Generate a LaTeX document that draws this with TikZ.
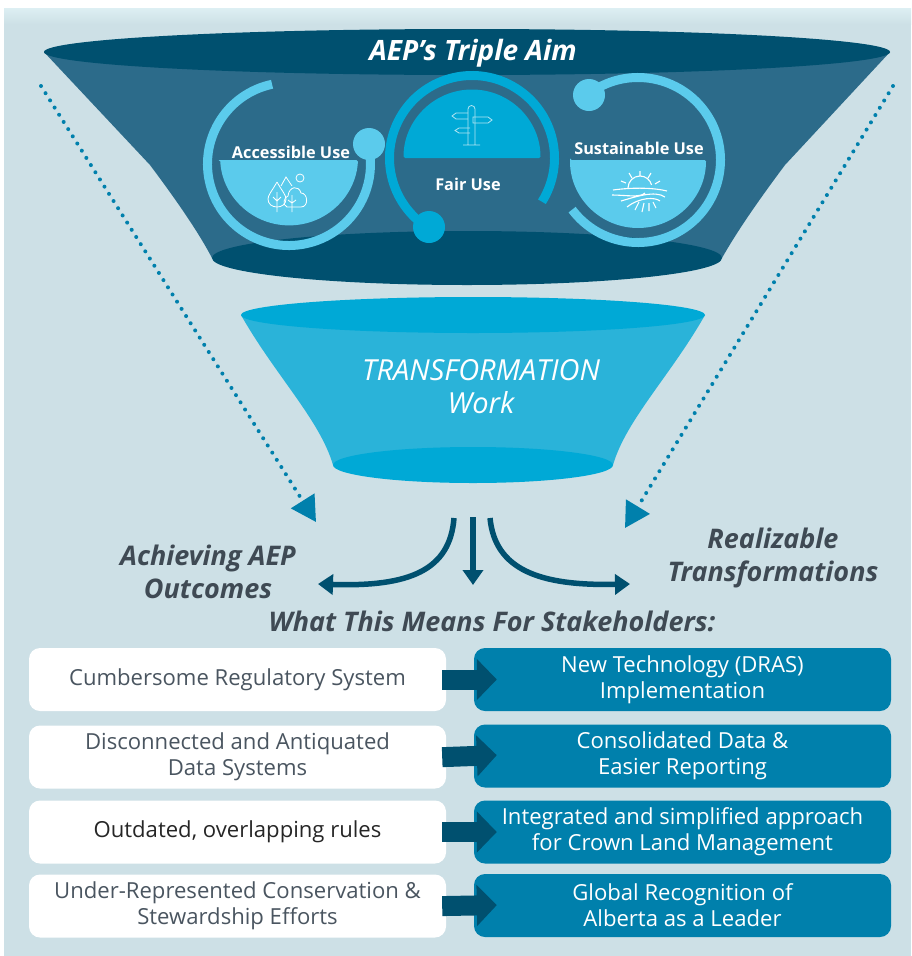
\documentclass[tikz,border=0pt]{standalone}
\usepackage{fontspec}
\setmainfont{Open Sans}
\usetikzlibrary{arrows.meta}
\definecolor{paleback}{HTML}{CDE0E6}
\definecolor{paletop}{HTML}{DDEFF3}
\definecolor{deepblue}{HTML}{00506F}
\definecolor{slateblue}{HTML}{2C6B8A}
\definecolor{midblue}{HTML}{00A9D6}
\definecolor{funnelblue}{HTML}{2AB3D9}
\definecolor{skyblue}{HTML}{5BCBEC}
\definecolor{tealbox}{HTML}{0080AC}
\definecolor{greytext}{HTML}{4A5560}
\definecolor{headtext}{HTML}{3F4A54}

\begin{document}
\begin{tikzpicture}[x=1pt,y=-1pt]
        \tikzstyle{ring}=[line width=9pt]
        \tikzstyle{icon}=[white,line width=0.8pt]
        \tikzstyle{aim}=[white,font=\fontsize{16.3}{19}\selectfont\bfseries]
        \tikzstyle{heading}=[headtext,align=center,font=\fontsize{27}{33}\selectfont\bfseries\itshape]
        \tikzstyle{problem}=[rectangle,rounded corners=11pt,fill=white,text=greytext,align=center,minimum width=417pt,minimum height=63pt,inner sep=0pt,font=\fontsize{22.1}{26}\selectfont]
        \tikzstyle{answer}=[rectangle,rounded corners=11pt,fill=tealbox,text=white,align=center,minimum width=417pt,minimum height=63pt,inner sep=0pt,font=\fontsize{22.1}{26}\selectfont]
        \tikzstyle{dots}=[tealbox,line width=4pt,line cap=round,dash pattern=on 0pt off 8.5pt,-{Triangle[length=25pt,width=27pt]}]
        \tikzstyle{outcome}=[deepblue,line width=5.5pt,-{Triangle[length=15pt,width=20pt]}]
        \tikzstyle{blockarrow}=[deepblue,line width=20pt,-{Triangle[length=20pt,width=40pt]},shorten <=-4pt,shorten >=-23pt]
        \useasboundingbox (0,0) rectangle (911,956);
        \fill [paleback] (4,8) rectangle (911,956);
        \shade [top color=paletop,bottom color=paleback] (4,8) rectangle (911,24);
        % top funnel
        \fill [slateblue] (44,52) -- (150,165) .. controls (180,205) and (200,235) .. (212,258) -- (722,258) .. controls (735,235) and (755,205) .. (785,165) -- (890,52) -- cycle;
        \fill [deepblue] (467,52) ellipse [x radius=423pt,y radius=23pt];
        \fill [deepblue] (467,258) ellipse [x radius=255pt,y radius=27pt];
        \node [white,font=\fontsize{28}{32}\selectfont\bfseries\itshape] (title) at (473,53) {AEP’s Triple Aim};
        % the three aims
        \coordinate (accessc) at (289,164);
        \coordinate (fairc) at (472,158);
        \coordinate (sustainc) at (638,160);
        \draw [ring,skyblue] (accessc) ++(102:81.5pt) arc [start angle=102,end angle=375,radius=81.5pt];
        \fill [skyblue] (369,144) circle [radius=16pt];
        \fill [skyblue,rounded corners=1.5pt] (220,160) -- (358,160) arc [start angle=-3,end angle=-177,radius=69pt] -- cycle;
        \draw [ring,midblue] (fairc) ++(-32:82.5pt) arc [start angle=-32,end angle=238,radius=82.5pt];
        \fill [midblue] (429,227) circle [radius=16pt];
        \fill [midblue,rounded corners=1.5pt] (403.5,158) arc [start angle=180,end angle=0,radius=68.5pt] -- cycle;
        \draw [ring,skyblue] (sustainc) ++(127:82.5pt) arc [start angle=127,end angle=-143,radius=82.5pt];
        \fill [skyblue] (589,95) circle [radius=16pt];
        \fill [skyblue,rounded corners=1.5pt] (570,160) -- (706,160) arc [start angle=0,end angle=-180,radius=68pt] -- cycle;
        \node [aim] (access) at (291,152) {Accessible Use};
        \node [aim] (fair) at (468,184) {Fair Use};
        \node [aim] (sustain) at (639,148) {Sustainable Use};
        % trees
        \begin{scope}[xshift=3pt]
            \draw [icon] (274,182) .. controls (279,191) and (283,195) .. (283,199) .. controls (283,204) and (279,207) .. (274,207) .. controls (269,207) and (265,204) .. (265,199) .. controls (265,195) and (269,191) .. (274,182);
            \draw [icon] (274,192) -- (274,212) (270,197) -- (274,201) -- (278,197);
            \draw [icon] (278,186) -- (283,177) -- (289,186);
            \draw [icon] (284,207) .. controls (279,205) and (281,197) .. (285,196) .. controls (286,186) and (296,185) .. (298,193) .. controls (305,193) and (306,207) .. (298,207) -- cycle;
            \draw [icon] (289,195) -- (289,212) (285,200) -- (289,203) -- (293,200);
            \draw [icon] (297,178) circle [radius=4pt];
        \end{scope}
        % signpost
        \draw [icon,white!70!midblue] (468,145) -- (468,109) arc [start angle=180,end angle=0,radius=3.5pt] -- (475,145) (463,145) -- (480,145);
        \draw [icon,white!70!midblue] (468,113) -- (456,113) -- (452,116) -- (456,119) -- (468,119);
        \draw [icon,white!70!midblue] (473,117) -- (488,117) -- (492,120) -- (488,123) -- (473,123) -- cycle;
        \draw [icon,white!70!midblue] (470,128) -- (459,128) -- (455,130.5) -- (459,133) -- (470,133);
        % sun and fields
        \begin{scope}[xshift=15pt]
            \draw [icon,line width=1.1pt] (613,188) arc [start angle=180,end angle=15,radius=12pt];
            \draw [icon,line width=1.1pt] (625,171) -- (625,176) (614,173) -- (617,178) (636,173) -- (633,178) (606,181) -- (611,183) (645,181) -- (640,184);
            \draw [icon,line width=1.1pt] (598,190) .. controls (620,187) and (640,188) .. (652,191);
            \draw [icon,line width=1.1pt] (597,195) .. controls (610,195) and (625,198) .. (630,193) (606,201) .. controls (620,197) and (640,190) .. (650,197) (612,207) .. controls (625,197) and (640,197) .. (645,201);
            \draw [icon,line width=1.1pt] (620,210) -- (624,202) (627,212) -- (629,203) (634,211) -- (634,203) (641,208) -- (638,202);
        \end{scope}
        % transformation funnel
        \fill [funnelblue] (241,315) .. controls (275,375) and (320,420) .. (333,465) -- (613,465) .. controls (626,420) and (671,375) .. (705,315) -- cycle;
        \fill [midblue] (473,315) ellipse [x radius=232pt,y radius=18pt];
        \fill [midblue] (473,465) ellipse [x radius=140pt,y radius=18pt];
        \node [white,align=center,font=\fontsize{29}{33}\selectfont\itshape] (work) at (481,387) {TRANSFORMATION\\Work};
        % dotted arrows
        \coordinate (dotsl) at (41,86);
        \coordinate (dotsr) at (893,86);
        \coordinate (tipl) at (316,522);
        \coordinate (tipr) at (625,528);
        \draw [dots] (dotsl) -- (tipl);
        \draw [dots] (dotsr) -- (tipr);
        \node [heading] (achieve) at (208,572) {Achieving AEP\\Outcomes};
        \node [heading] (realize) at (773,558) {Realizable\\Transformations};
        \node [heading] (means) at (492,621) {What This Means For Stakeholders:};
        % three way split
        \coordinate (splitl) at (454,518);
        \coordinate (splitc) at (473,517);
        \coordinate (splitr) at (490,518);
        \coordinate (endl) at (318,584);
        \coordinate (endc) at (473,585);
        \coordinate (endr) at (630,584);
        \draw [outcome] (splitl) .. controls (450,570) and (410,587) .. (endl);
        \draw [outcome] (splitc) -- (endc);
        \draw [outcome] (splitr) .. controls (495,570) and (540,586) .. (endr);
        % before and after
        \node [problem] (prob1) at (237.5,679.5) {\raisebox{-2pt}{Cumbersome Regulatory System}};
        \node [problem] (prob2) at (237.5,757) {Disconnected and Antiquated\\Data Systems};
        \node [problem,text=black!85] (prob3) at (237.5,832) {\raisebox{-2pt}{Outdated, overlapping rules}};
        \node [problem] (prob4) at (237.5,906) {Under-Represented Conservation \&\\Stewardship Efforts};
        \node [answer] (ans1) at (682.5,679.5) {New Technology (DRAS)\\Implementation};
        \node [answer] (ans2) at (682.5,756) {Consolidated Data \&\\Easier Reporting};
        \node [answer] (ans3) at (682.5,832) {Integrated and simplified approach\\for Crown Land Management};
        \node [answer] (ans4) at (682.5,905.5) {Global Recognition of\\Alberta as a Leader};
        \foreach \row in {1,2,3,4}
            \draw [blockarrow] (prob\row.east) -- (ans\row.west);
    \end{tikzpicture}
\end{document}
